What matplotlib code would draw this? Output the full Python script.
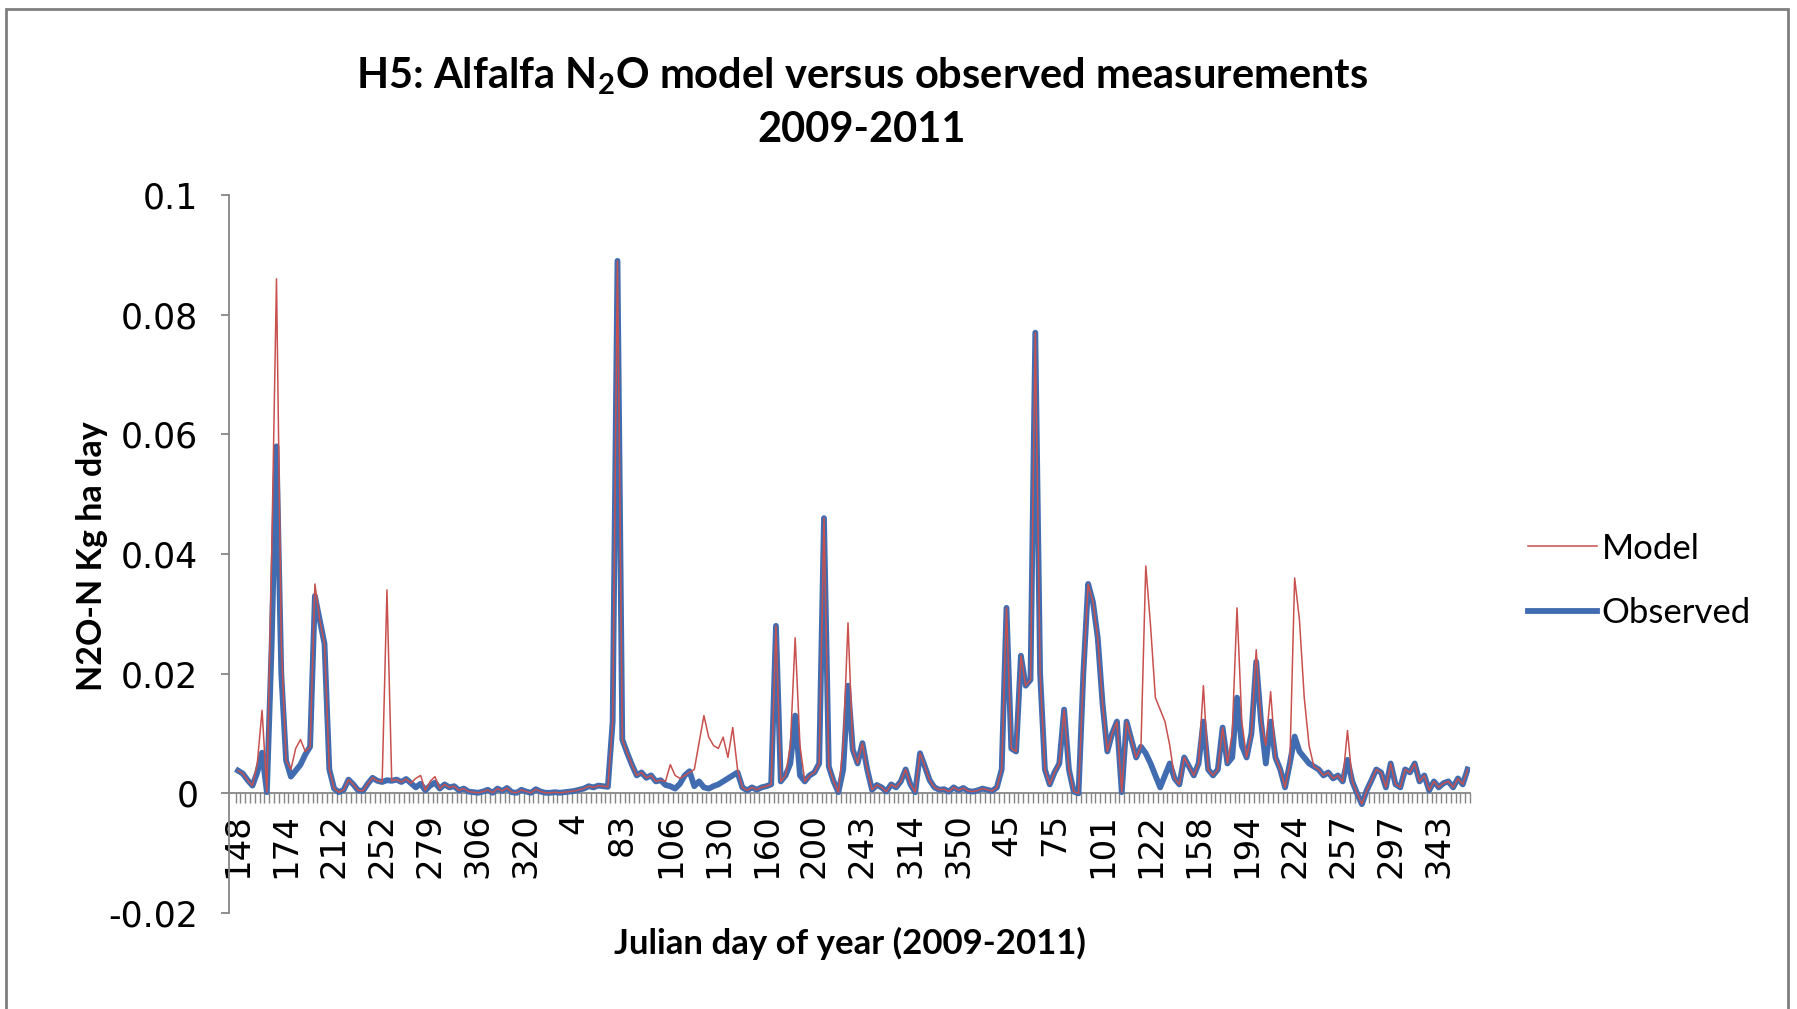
import numpy as np
import matplotlib.pyplot as plt
from matplotlib.patches import Rectangle

plt.rcParams['font.family'] = ['Lato', 'DejaVu Sans']
plt.rcParams['mathtext.fontset'] = 'custom'
plt.rcParams['mathtext.rm'] = 'Lato:bold'
plt.rcParams['mathtext.it'] = 'Lato:bold'
plt.rcParams['mathtext.bf'] = 'Lato:bold'

# Julian day shown under every 10th sampling date
day_labels = ['148', '174', '212', '252', '279', '306', '320', '4', '83', '106',
              '130', '160', '200', '243', '314', '350', '45', '75', '101', '122',
              '158', '194', '224', '257', '297', '343']
label_step = 10

y_ticks = [-0.02, 0, 0.02, 0.04, 0.06, 0.08, 0.1]
y_tick_labels = ['-0.02', '0', '0.02', '0.04', '0.06', '0.08', '0.1']

# N2O-N flux (kg/ha/day) per sampling date
observed = [
    0.0038, 0.0033, 0.0022, 0.0013, 0.0035, 0.0068, 0.0002, 0.025, 0.058, 0.02,
    0.0055, 0.0028, 0.0038, 0.0048, 0.0065, 0.0078, 0.033, 0.029, 0.025, 0.004,
    0.0008, 0.0002, 0.0006, 0.0023, 0.0015, 0.0005, 0.0004, 0.0016, 0.0026, 0.0021,
    0.0019, 0.0022, 0.0021, 0.0023, 0.0019, 0.0024, 0.0017, 0.001, 0.0016, 0.0005,
    0.0013, 0.0018, 0.0008, 0.0015, 0.001, 0.0012, 0.0005, 0.0008, 0.0003, 0.0002,
    0.0001, 0.0003, 0.0006, 0.0001, 0.0008, 0.0004, 0.0009, 0.0002, 0.0001, 0.0006,
    0.0003, 0.0001, 0.0007, 0.0003, 0.0001, 0.0001, 0.0002, 0.0001, 0.0002, 0.0003,
    0.0004, 0.0006, 0.0008, 0.0012, 0.001, 0.0013, 0.0012, 0.0011, 0.012, 0.089,
    0.009, 0.0068, 0.0048, 0.003, 0.0035, 0.0026, 0.003, 0.002, 0.0022, 0.0014,
    0.0012, 0.0008, 0.0016, 0.003, 0.0037, 0.0012, 0.002, 0.001, 0.0008, 0.0012,
    0.0015, 0.002, 0.0025, 0.003, 0.0035, 0.001, 0.0005, 0.001, 0.0006, 0.001,
    0.0012, 0.0015, 0.028, 0.002, 0.003, 0.005, 0.013, 0.003, 0.002, 0.003,
    0.0035, 0.005, 0.046, 0.0045, 0.002, 0.0002, 0.004, 0.018, 0.0073, 0.005,
    0.0084, 0.004, 0.0006, 0.0014, 0.001, 0.0003, 0.0015, 0.001, 0.002, 0.004,
    0.0015, 0.0002, 0.0067, 0.0045, 0.0022, 0.001, 0.0006, 0.0007, 0.0003, 0.001,
    0.0005, 0.0009, 0.0004, 0.0003, 0.0005, 0.0008, 0.0006, 0.0004, 0.001, 0.004,
    0.031, 0.0075, 0.007, 0.023, 0.018, 0.019, 0.077, 0.02, 0.004, 0.0015,
    0.0035, 0.005, 0.014, 0.004, 0.0003, 0.0, 0.02, 0.035, 0.032, 0.026,
    0.015, 0.007, 0.01, 0.012, 0.0002, 0.012, 0.009, 0.006, 0.0078, 0.0067,
    0.005, 0.003, 0.001, 0.003, 0.005, 0.0025, 0.0015, 0.006, 0.0045, 0.003,
    0.005, 0.012, 0.004, 0.003, 0.004, 0.011, 0.005, 0.006, 0.016, 0.008,
    0.006, 0.01, 0.022, 0.012, 0.005, 0.012, 0.006, 0.004, 0.001, 0.005,
    0.0095, 0.007, 0.006, 0.005, 0.0045, 0.004, 0.003, 0.0035, 0.0025, 0.003,
    0.002, 0.0056, 0.002, 0.0, -0.0018, 0.0005, 0.0022, 0.004, 0.0035, 0.001,
    0.005, 0.0015, 0.001, 0.004, 0.0035, 0.005, 0.002, 0.003, 0.0005, 0.002,
    0.001, 0.0017, 0.002, 0.001, 0.0025, 0.0015, 0.004,
]

model = [
    0.0038, 0.0033, 0.0022, 0.0013, 0.005, 0.0139, 0.0002, 0.04, 0.086, 0.025,
    0.0055, 0.004, 0.0075, 0.009, 0.007, 0.0078, 0.035, 0.029, 0.025, 0.004,
    0.0008, 0.0002, 0.0006, 0.0023, 0.0015, 0.0005, 0.0004, 0.0016, 0.0026, 0.0021,
    0.0019, 0.034, 0.0021, 0.0023, 0.0019, 0.0024, 0.0017, 0.0025, 0.003, 0.0005,
    0.002, 0.0028, 0.0008, 0.0015, 0.001, 0.0012, 0.0005, 0.0008, 0.0003, 0.0002,
    0.0001, 0.0003, 0.0006, 0.0001, 0.0008, 0.0004, 0.0009, 0.0002, 0.0001, 0.0006,
    0.0003, 0.0001, 0.0007, 0.0003, 0.0001, 0.0001, 0.0002, 0.0001, 0.0002, 0.0003,
    0.0004, 0.0006, 0.0008, 0.0012, 0.001, 0.0013, 0.0012, 0.0011, 0.012, 0.089,
    0.009, 0.0068, 0.0048, 0.003, 0.0035, 0.0026, 0.003, 0.002, 0.0022, 0.002,
    0.0048, 0.003, 0.0025, 0.003, 0.0035, 0.004, 0.0085, 0.013, 0.0094, 0.008,
    0.0075, 0.0094, 0.006, 0.011, 0.004, 0.001, 0.0005, 0.001, 0.0006, 0.001,
    0.0012, 0.0015, 0.028, 0.002, 0.003, 0.008, 0.026, 0.008, 0.002, 0.003,
    0.0035, 0.005, 0.046, 0.0045, 0.002, 0.0002, 0.008, 0.0285, 0.0073, 0.005,
    0.0084, 0.004, 0.0006, 0.0014, 0.001, 0.0003, 0.0015, 0.001, 0.002, 0.004,
    0.0015, 0.0002, 0.0067, 0.0045, 0.0022, 0.001, 0.0006, 0.0007, 0.0003, 0.001,
    0.0005, 0.0009, 0.0004, 0.0003, 0.0005, 0.0008, 0.0006, 0.0004, 0.001, 0.004,
    0.031, 0.0075, 0.007, 0.023, 0.018, 0.019, 0.077, 0.02, 0.004, 0.0015,
    0.0035, 0.005, 0.014, 0.004, 0.0003, 0.0, 0.02, 0.035, 0.032, 0.026,
    0.015, 0.007, 0.01, 0.012, 0.0002, 0.012, 0.009, 0.006, 0.0078, 0.038,
    0.028, 0.016, 0.014, 0.012, 0.008, 0.0025, 0.0015, 0.006, 0.0045, 0.003,
    0.005, 0.018, 0.004, 0.003, 0.004, 0.011, 0.005, 0.01, 0.031, 0.012,
    0.006, 0.01, 0.024, 0.012, 0.008, 0.017, 0.006, 0.004, 0.001, 0.005,
    0.036, 0.029, 0.016, 0.008, 0.0045, 0.004, 0.003, 0.0035, 0.0025, 0.003,
    0.002, 0.0105, 0.002, 0.0, -0.0018, 0.0005, 0.0022, 0.004, 0.0035, 0.001,
    0.005, 0.0015, 0.001, 0.004, 0.0035, 0.005, 0.002, 0.003, 0.0005, 0.002,
    0.001, 0.0017, 0.002, 0.001, 0.0025, 0.0015, 0.004,
]

fig = plt.figure(figsize=(17.97, 10.09), dpi=100)
ax = fig.add_axes([0.1274, 0.0951, 0.6906, 0.7116])

x = np.arange(len(observed))
h_obs, = ax.plot(x, observed, color='#416DB0', lw=4.2, solid_joinstyle='round', zorder=3)
h_mod, = ax.plot(x, model, color='#C8504E', lw=1.1, zorder=4)

ax.set_xlim(-1.9, len(x) - 0.5)
ax.set_ylim(-0.02, 0.1)

# category axis sits at zero, y axis on the left only
for side in ['top', 'right']:
    ax.spines[side].set_visible(False)
ax.spines['bottom'].set_position(('data', 0))
ax.spines['bottom'].set_color('#868686')
ax.spines['left'].set_color('#868686')
ax.spines['left'].set_linewidth(1.3)
ax.spines['bottom'].set_linewidth(1.3)

ax.set_xticks(x[::label_step])
ax.set_xticklabels(day_labels, rotation=90, fontfamily='DejaVu Sans', fontsize=24.5, va='top')
ax.set_xticks(np.arange(len(x) + 1) - 0.5, minor=True)
ax.tick_params(axis='x', which='major', length=0, pad=14)
ax.tick_params(axis='x', which='minor', length=7, width=1, color='#868686')

ax.set_yticks(y_ticks)
ax.set_yticklabels(y_tick_labels, fontfamily='DejaVu Sans', fontsize=25)
ax.tick_params(axis='y', length=6, width=1.3, color='#868686', pad=16)

fig.text(862 / 1797, 1 - 76 / 1009, 'H5: Alfalfa N$_{2}$O model versus observed measurements',
         ha='center', va='center', fontsize=30, fontweight='bold')
fig.text(862 / 1797, 1 - 130 / 1009, '2009-2011',
         ha='center', va='center', fontsize=30, fontweight='bold')

fig.text(92 / 1797, 1 - 556 / 1009, 'N2O-N Kg ha day', rotation=90,
         ha='center', va='center', fontsize=24.5, fontweight='bold')
fig.text(850 / 1797, 1 - 943 / 1009, 'Julian day of year (2009-2011)',
         ha='center', va='center', fontsize=25, fontweight='bold')

fig.legend([h_mod, h_obs], ['Model', 'Observed'], loc='center left',
           bbox_to_anchor=(1528 / 1797, 1 - 581 / 1009), frameon=False,
           fontsize=25, handlelength=2.0, handletextpad=0.12,
           borderpad=0, borderaxespad=0, labelspacing=0.95)

# chart border
fig.patches.append(Rectangle((0.0035, -0.01), 0.9915, 1.001, transform=fig.transFigure,
                             fill=False, edgecolor='#7f7f7f', lw=2))

fig.savefig('out.png', dpi=100)
